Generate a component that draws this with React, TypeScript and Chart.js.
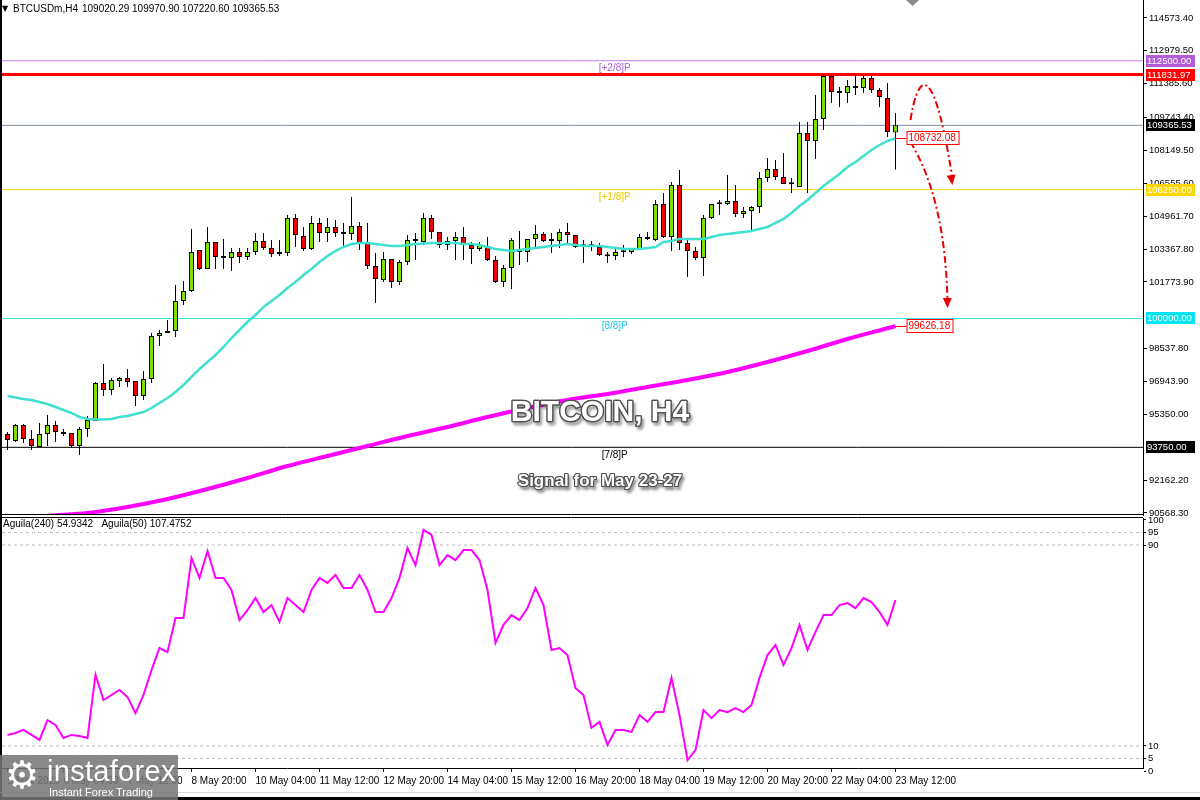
import React, { useEffect, useRef } from 'react';
import { Chart, registerables } from 'chart.js';

Chart.register(...registerables);

// ---------- data ----------
const symbolName = 'BTCUSDm,H4';

const openP = [
  94397, 94058, 94834, 94155, 93767, 94397, 94834, 94494, 94446, 93815,
  94640, 95028, 96871, 96531, 96968, 97113, 96968, 96240, 97065, 99150,
  99296, 99393, 100848, 101333, 103321, 102400, 103709, 102933, 102933, 103224,
  102982, 103224, 103758, 103418, 103127, 103176, 104873, 104000, 103370, 104631,
  104146, 104437, 104097, 104097, 104485, 103709, 102545, 101866, 102885, 101769,
  102739, 103758, 103709, 104873, 104194, 103564, 103758, 103952, 103564, 103370,
  103515, 102836, 101769, 102448, 103370, 103224, 103855, 104097, 103758, 103758,
  104194, 104049, 103515, 103515, 103467, 103030, 103030, 103224, 103224, 103370,
  103952, 103806, 105552, 103952, 106474, 103661, 103273, 102933, 104873, 105552,
  105552, 105698, 105067, 105213, 105407, 106813, 107250, 106862, 106522, 106377,
  108996, 108608, 109675, 111760, 110984, 110936, 111275, 111178, 111663, 111081,
  110693, 109020.29,
];
const highP = [
  94494, 94882, 94882, 94591, 94931, 95319, 95028, 94640, 94446, 94737,
  95270, 96919, 97792, 97113, 97162, 97550, 96968, 97453, 99296, 99441,
  99926, 101624, 101818, 104340, 103321, 104437, 103709, 103855, 103418, 103418,
  103418, 104146, 104146, 103806, 103806, 105019, 105067, 104437, 104970, 104873,
  104873, 104776, 104631, 105892, 104679, 104631, 103176, 103224, 102885, 102836,
  104049, 104146, 105116, 105019, 104194, 103952, 104194, 104437, 103709, 103709,
  103952, 103030, 102594, 103903, 104243, 103855, 104534, 104194, 104146, 104340,
  104631, 104049, 103806, 103758, 103661, 103224, 103418, 103564, 103418, 104097,
  104194, 105746, 106086, 106619, 107201, 103806, 103467, 105019, 105552, 105746,
  106959, 106474, 105407, 105455, 107104, 107783, 107686, 108026, 106813, 109529,
  109529, 110839, 111857, 111809, 111227, 111566, 111832, 111760, 111760, 111178,
  111421, 109970.90,
];
const lowP = [
  93621, 94009, 93961, 93621, 93767, 93815, 94009, 94300, 93718, 93379,
  94252, 95028, 96240, 96289, 96677, 96677, 95755, 96046, 96871, 98665,
  99296, 99102, 100654, 101284, 102351, 102400, 102400, 102400, 102303, 102691,
  102836, 103079, 103321, 102982, 103030, 103030, 103467, 103273, 103321, 103709,
  103709, 103952, 103515, 103806, 103321, 102400, 100751, 101769, 101478, 101624,
  102594, 102836, 103564, 103855, 103418, 103321, 102836, 102836, 102642, 103273,
  102788, 101721, 101527, 101430, 102594, 102739, 103467, 103709, 103176, 103418,
  103564, 103418, 102691, 103273, 103030, 102691, 102836, 102982, 103127, 103321,
  103806, 103758, 103903, 103273, 103321, 102012, 102836, 102060, 104825, 105019,
  105504, 104922, 104873, 104291, 105116, 106619, 106716, 106522, 106086, 106377,
  106086, 107735, 109141, 110451, 110257, 110451, 110839, 110936, 110936, 110257,
  108802, 107220.60,
];
const closeP = [
  94106, 94834, 94155, 93815, 94397, 94834, 94494, 94397, 93815, 94640,
  95076, 96871, 96531, 97016, 97113, 96919, 96240, 97065, 99150, 99296,
  99393, 100848, 101333, 103224, 102400, 103709, 102982, 102950, 103224, 102982,
  103224, 103758, 103418, 103127, 103140, 104873, 104049, 103370, 104631, 104146,
  104437, 104146, 104110, 104485, 103661, 102545, 101915, 102885, 101769, 102739,
  103806, 103770, 104873, 104194, 103564, 103758, 103952, 103564, 103370, 103564,
  102836, 101769, 102448, 103806, 103224, 103855, 104097, 103758, 103770, 104194,
  104049, 103467, 103503, 103503, 103079, 103018, 103224, 103212, 103370, 103952,
  103855, 105552, 103952, 106474, 103661, 103273, 102933, 104873, 105552, 105540,
  105698, 105067, 105213, 105407, 106813, 107250, 106862, 106522, 106510, 108996,
  108608, 109675, 111760, 110984, 110936, 111275, 111178, 111663, 111081, 110742,
  109044, 109365.53,
];

// fast moving average (turquoise), one value per bar
const maFast = [
  96240, 96167, 96095, 96046, 95949, 95852, 95706, 95561, 95416, 95222,
  95125, 95100, 95100, 95125, 95222, 95270, 95367, 95464, 95658, 95901,
  96143, 96434, 96774, 97162, 97550, 97889, 98229, 98617, 99053, 99441,
  99829, 100169, 100557, 100848, 101139, 101478, 101769, 102109, 102400, 102739,
  103030, 103273, 103467, 103612, 103661, 103661, 103612, 103564, 103515, 103515,
  103564, 103612, 103636, 103661, 103661, 103661, 103661, 103612, 103612, 103564,
  103467, 103370, 103321, 103273, 103321, 103370, 103418, 103467, 103515, 103564,
  103612, 103564, 103515, 103515, 103515, 103467, 103418, 103370, 103370, 103370,
  103418, 103467, 103709, 103758, 103855, 103855, 103855, 103855, 103952, 104049,
  104097, 104146, 104194, 104243, 104340, 104437, 104631, 104825, 105116, 105455,
  105746, 106086, 106425, 106716, 107007, 107347, 107589, 107880, 108171, 108414,
  108608, 108732.08,
];

// slow moving average (magenta), read every 5 bars
const maSlowIdx = [0, 5, 10, 15, 20, 25, 30, 35, 40, 45, 50, 55, 60, 65, 70, 75, 80, 85, 90, 95, 100, 105, 110, 111];
const maSlow = [
  90226, 90420, 90566, 90857, 91245, 91730, 92263, 92845, 93330, 93815,
  94300, 94737, 95222, 95658, 96046, 96337, 96677, 97016, 97404, 97889,
  98423, 99005, 99524, 99626.18,
];

// oscillator panel
const aguila = [
  14.4, 15.2, 16.4, 14.4, 12.4, 20.3, 18.4, 13.2, 14.4, 14.0,
  13.2, 38.3, 28.3, 30.3, 32.3, 29.5, 23.1, 30.3, 40.2, 49.0,
  47.4, 60.9, 60.9, 84.8, 76.9, 87.6, 76.9, 76.9, 72.1, 60.1,
  64.1, 68.9, 63.3, 66.1, 59.4, 68.9, 66.1, 63.3, 72.1, 76.9,
  74.9, 78.1, 72.9, 72.9, 78.1, 72.1, 63.3, 63.3, 68.9, 76.9,
  88.8, 82.0, 96.0, 94.0, 82.0, 86.0, 84.0, 88.0, 88.0, 84.0,
  72.1, 51.0, 58.2, 62.1, 60.1, 64.9, 72.9, 66.1, 48.2, 49.0,
  46.2, 33.1, 30.3, 17.2, 19.6, 10.4, 16.4, 16.4, 15.6, 22.3,
  19.6, 23.5, 23.5, 37.1, 22.3, 4.4, 8.4, 24.3, 21.1, 24.3,
  23.5, 25.1, 23.5, 26.3, 37.1, 46.2, 50.2, 42.2, 49.0, 58.2,
  48.2, 55.4, 62.1, 62.1, 66.1, 66.9, 64.9, 68.9, 67.3, 63.3,
  58.2, 68.1,
];
const aguilaLegend = 'Aguila(240) 54.9342   Aguila(50) 107.4752';
const aguilaLevels = [95, 90, 10, 5];
const aguilaTicks = [100, 95, 90, 10, 5, 0];

const timeLabelIdx = [0, 7, 15, 23, 31, 39, 47, 55, 63, 71, 79, 87, 95, 103, 111];
const timeLabels = [
  '5 May 2025', '6 May 04:00', '7 May 12:00', '8 May 20:00', '10 May 04:00',
  '11 May 12:00', '12 May 20:00', '14 May 04:00', '15 May 12:00', '16 May 20:00',
  '18 May 04:00', '19 May 12:00', '20 May 20:00', '22 May 04:00', '23 May 12:00',
];

const priceTicks = [
  114573.4, 112979.5, 111385.6, 109743.4, 108149.5, 106555.6, 104961.7,
  103367.8, 101773.9, 98537.8, 96943.9, 95350.0, 92162.2, 90568.3,
];

const levelPrices = [112500, 111831.97, 109365.53, 106250, 100000, 93750];
const levelNames = ['[+2/8]P', '', '', '[+1/8]P', '[8/8]P', '[7/8]P'];

// annotation arrows, in (bar index, price)
const arrowUp = [
  [112.875, 109626], [113.5, 111178], [114.5, 111324], [116.25, 111420], [118.125, 106474],
];
const arrowDown = [[112.875, 108559], [117.25, 105746], [117.5, 100508]];

const titleText = 'BITCOIN, H4';
const subtitleText = 'Signal for May 23-27';

// ---------- styling / layout ----------
const FONT = '"Liberation Sans", Arial, Helvetica, sans-serif';
const X_MIN = -0.6875;
const X_MAX = 141.9375;
const Y_MAX = 115446;
const Y_MIN = 90468.5;
const IND_MAX = 100.75;
const IND_MIN = 1.24;
const LEVEL_LABEL_AT = 75.9;

const levelLineColors = ['#C47DE6', '#FF0000', '#7F8FA6', '#FFD700', '#38E4E4', '#000000'];
const levelLineWidths = [1, 3, 1, 1, 1, 1];
const levelTextColors = ['#B060D8', '#FF0000', '#000', '#F0C800', '#20C8E8', '#000'];
const tagColors = ['#B45CD6', '#FF0000', '#000000', '#FFD700', '#00E6F0', '#000000'];
const BULL = '#7FE000';
const BEAR = '#F00000';

const idx = openP.map((_, i) => i);

function drawOutlinedText(ctx: any, text: string, x: number, y: number, font: string, lw: number) {
  ctx.save();
  ctx.font = font;
  ctx.textAlign = 'center';
  ctx.textBaseline = 'middle';
  ctx.lineJoin = 'round';
  ctx.shadowColor = 'rgba(0,0,0,0.45)';
  ctx.shadowBlur = 3;
  ctx.shadowOffsetX = 2;
  ctx.shadowOffsetY = 3;
  ctx.lineWidth = lw;
  ctx.strokeStyle = '#505050';
  ctx.strokeText(text, x, y);
  ctx.shadowColor = 'transparent';
  ctx.strokeText(text, x, y);
  ctx.fillStyle = '#ffffff';
  ctx.fillText(text, x, y);
  ctx.restore();
}

function arrowHead(ctx: any, fx: number, fy: number, tx: number, ty: number) {
  const a = Math.atan2(ty - fy, tx - fx);
  const len = 10, hw = 4.5;
  ctx.beginPath();
  ctx.moveTo(tx, ty);
  ctx.lineTo(tx - len * Math.cos(a) + hw * Math.sin(a), ty - len * Math.sin(a) - hw * Math.cos(a));
  ctx.lineTo(tx - len * Math.cos(a) - hw * Math.sin(a), ty - len * Math.sin(a) + hw * Math.cos(a));
  ctx.closePath();
  ctx.fill();
}

const mainOverlay = {
  id: 'mainOverlay',
  afterDraw(chart: any) {
    const { ctx, chartArea: ca } = chart;
    const xs = chart.scales.x;
    const ys = chart.scales.y;
    const P = (pt: number[]) => [xs.getPixelForValue(pt[0]), ys.getPixelForValue(pt[1])];
    const last = idx.length - 1;
    ctx.save();

    // bottom border of price panel
    ctx.strokeStyle = '#000';
    ctx.lineWidth = 1;
    ctx.beginPath();
    ctx.moveTo(0, ca.bottom - 0.5);
    ctx.lineTo(ca.right, ca.bottom - 0.5);
    ctx.stroke();

    // header
    ctx.fillStyle = '#000';
    ctx.textAlign = 'left';
    ctx.textBaseline = 'middle';
    ctx.font = '8px "DejaVu Sans"';
    ctx.fillText('▼', 2, 9);
    ctx.font = `10px ${FONT}`;
    ctx.fillText(symbolName, 13, 9);
    ctx.fillText(
      `${openP[last].toFixed(2)} ${highP[last].toFixed(2)} ${lowP[last].toFixed(2)} ${closeP[last].toFixed(2)}`,
      82, 9);

    // level names
    ctx.font = `10px ${FONT}`;
    ctx.textAlign = 'center';
    ctx.textBaseline = 'top';
    levelPrices.forEach((p, k) => {
      if (!levelNames[k]) return;
      ctx.fillStyle = levelTextColors[k];
      ctx.fillText(levelNames[k], xs.getPixelForValue(LEVEL_LABEL_AT), ys.getPixelForValue(p) + 3);
    });

    // big captions
    drawOutlinedText(ctx, titleText, 600, 413, `bold 30px ${FONT}`, 2.5);
    drawOutlinedText(ctx, subtitleText, 600, 481, `bold 17px ${FONT}`, 2);

    // arrows
    ctx.strokeStyle = '#E80000';
    ctx.fillStyle = '#E80000';
    ctx.lineWidth = 2;
    ctx.setLineDash([7, 3, 2, 3]);
    const a = arrowUp.map(P);
    ctx.beginPath();
    ctx.moveTo(a[0][0], a[0][1]);
    ctx.quadraticCurveTo(a[1][0], a[1][1], a[2][0], a[2][1]);
    ctx.quadraticCurveTo(a[3][0], a[3][1], a[4][0], a[4][1] - 6);
    ctx.stroke();
    const b = arrowDown.map(P);
    ctx.beginPath();
    ctx.moveTo(b[0][0], b[0][1]);
    ctx.quadraticCurveTo(b[1][0], b[1][1], b[2][0], b[2][1] - 6);
    ctx.stroke();
    ctx.setLineDash([]);
    arrowHead(ctx, a[3][0], a[3][1], a[4][0], a[4][1]);
    arrowHead(ctx, b[1][0], b[1][1], b[2][0], b[2][1]);

    // value tags of the moving averages
    ctx.font = `10px ${FONT}`;
    ctx.textAlign = 'left';
    ctx.textBaseline = 'middle';
    ctx.lineWidth = 1;
    const lx = xs.getPixelForValue(last);
    [maFast[last], maSlow[maSlow.length - 1]].forEach((v) => {
      const y = Math.round(ys.getPixelForValue(v));
      const text = v.toFixed(2);
      const w = Math.ceil(ctx.measureText(text).width) + 4;
      ctx.strokeStyle = '#FF0000';
      ctx.beginPath();
      ctx.moveTo(lx, y + 0.5);
      ctx.lineTo(lx + 11, y + 0.5);
      ctx.stroke();
      ctx.fillStyle = '#fff';
      ctx.fillRect(lx + 11, y - 7, w, 14);
      ctx.strokeRect(lx + 11.5, y - 6.5, w, 13);
      ctx.fillStyle = '#FF0000';
      ctx.fillText(text, lx + 13, y + 0.5);
    });

    // price tags on the axis
    ctx.font = `9.5px ${FONT}`;
    levelPrices.forEach((p, k) => {
      const y = Math.round(ys.getPixelForValue(p));
      ctx.fillStyle = tagColors[k];
      ctx.fillRect(ca.right + 3, y - 6, 49, 12);
      ctx.fillStyle = '#fff';
      ctx.fillText(p.toFixed(2), ca.right + 4, y + 0.5);
    });

    // chart-shift marker
    ctx.fillStyle = '#8a8a8a';
    ctx.beginPath();
    ctx.moveTo(906, 0);
    ctx.lineTo(919, 0);
    ctx.lineTo(912.5, 6);
    ctx.closePath();
    ctx.fill();

    ctx.restore();
  },
};

const indOverlay = {
  id: 'indOverlay',
  afterDraw(chart: any) {
    const { ctx, chartArea: ca } = chart;
    ctx.save();
    ctx.strokeStyle = '#000';
    ctx.lineWidth = 1;
    ctx.beginPath();
    ctx.moveTo(0, ca.top - 0.5);
    ctx.lineTo(ca.right, ca.top - 0.5);
    ctx.stroke();
    ctx.fillStyle = '#000';
    ctx.font = `10px ${FONT}`;
    ctx.textAlign = 'left';
    ctx.textBaseline = 'middle';
    ctx.fillText(aguilaLegend, 3, 8);
    ctx.restore();
  },
};

function mainConfig(): any {
  const lineAt = (p: number) => [{ x: X_MIN, y: p }, { x: X_MAX, y: p }];
  return {
    type: 'bar',
    data: {
      datasets: [
        ...levelPrices.map((p, k) => ({
          type: 'line',
          data: lineAt(p),
          borderColor: levelLineColors[k],
          borderWidth: levelLineWidths[k],
          pointRadius: 0,
          order: 20 + k,
        })),
        {
          type: 'bar',
          data: idx.map((i) => ({ x: i, y: [lowP[i], highP[i]] })),
          backgroundColor: '#000',
          barThickness: 1,
          grouped: false,
          inflateAmount: 0,
          order: 6,
        },
        {
          type: 'bar',
          data: idx.map((i) => ({ x: i, y: [openP[i], closeP[i]] })),
          backgroundColor: idx.map((i) => (closeP[i] >= openP[i] ? BULL : BEAR)),
          borderColor: '#000',
          borderWidth: 1,
          borderSkipped: false,
          barThickness: 5,
          minBarLength: 2,
          grouped: false,
          inflateAmount: 0,
          order: 5,
        },
        {
          type: 'line',
          data: idx.map((i) => ({ x: i, y: maFast[i] })),
          borderColor: '#40E0D0',
          borderWidth: 2.5,
          pointRadius: 0,
          order: 2,
        },
        {
          type: 'line',
          data: maSlowIdx.map((v, k) => ({ x: v, y: maSlow[k] })),
          borderColor: '#FF00FF',
          borderWidth: 4,
          pointRadius: 0,
          tension: 0.3,
          order: 1,
        },
      ],
    },
    options: {
      responsive: false,
      animation: false,
      events: [],
      layout: { padding: { left: 2, top: 0, right: 0, bottom: 1 } },
      plugins: { legend: { display: false }, tooltip: { enabled: false } },
      scales: {
        x: { type: 'linear', display: false, min: X_MIN, max: X_MAX, offset: false },
        y: {
          type: 'linear',
          position: 'right',
          min: Y_MIN,
          max: Y_MAX,
          afterBuildTicks: (s: any) => { s.ticks = priceTicks.map((v) => ({ value: v })); },
          afterFit: (s: any) => { s.width = 57; s.paddingTop = 0; s.paddingBottom = 0; },
          ticks: {
            autoSkip: false,
            color: '#000',
            font: { size: 9.5, family: FONT },
            padding: 2,
            crossAlign: 'near',
            callback: (v: any) => Number(v).toFixed(2),
          },
          grid: { drawOnChartArea: false, tickLength: 4, tickColor: '#000' },
          border: { display: true, color: '#000' },
        },
      },
    },
    plugins: [mainOverlay],
  };
}

function indConfig(): any {
  return {
    type: 'line',
    data: {
      datasets: [
        ...aguilaLevels.map((v) => ({
          data: [{ x: X_MIN, y: v }, { x: X_MAX, y: v }],
          borderColor: '#BDBDBD',
          borderWidth: 1,
          borderDash: [3, 3],
          pointRadius: 0,
          order: 5,
        })),
        {
          data: idx.map((i) => ({ x: i, y: aguila[i] })),
          borderColor: '#FF00FF',
          borderWidth: 2,
          pointRadius: 0,
          order: 1,
        },
      ],
    },
    options: {
      responsive: false,
      animation: false,
      events: [],
      layout: { padding: { left: 2, top: 2, right: 0, bottom: 0 } },
      plugins: { legend: { display: false }, tooltip: { enabled: false } },
      scales: {
        x: {
          type: 'linear',
          min: X_MIN,
          max: X_MAX,
          offset: false,
          afterBuildTicks: (s: any) => { s.ticks = timeLabelIdx.map((v) => ({ value: v })); },
          afterFit: (s: any) => { s.height = 32; s.paddingLeft = 0; s.paddingRight = 0; },
          ticks: {
            autoSkip: false,
            maxRotation: 0,
            minRotation: 0,
            align: 'start',
            padding: 3,
            color: '#000',
            font: { size: 10, family: FONT },
            callback: (v: any) => timeLabels[timeLabelIdx.indexOf(Number(v))] ?? '',
          },
          grid: { drawOnChartArea: false, tickLength: 4, tickColor: '#000' },
          border: { display: true, color: '#000' },
        },
        y: {
          type: 'linear',
          position: 'right',
          min: IND_MIN,
          max: IND_MAX,
          afterBuildTicks: (s: any) => { s.ticks = aguilaTicks.map((v) => ({ value: v })); },
          afterFit: (s: any) => { s.width = 57; s.paddingTop = 0; s.paddingBottom = 0; },
          ticks: {
            autoSkip: false,
            color: '#000',
            font: { size: 9.5, family: FONT },
            padding: 2,
            crossAlign: 'near',
          },
          grid: { drawOnChartArea: false, tickLength: 3, tickColor: '#000' },
          border: { display: true, color: '#000' },
        },
      },
    },
    plugins: [indOverlay],
  };
}

export default function App() {
  const mainRef = useRef<HTMLCanvasElement>(null);
  const indRef = useRef<HTMLCanvasElement>(null);

  useEffect(() => {
    Chart.defaults.font.family = FONT;
    const main = new Chart(mainRef.current as HTMLCanvasElement, mainConfig());
    const ind = new Chart(indRef.current as HTMLCanvasElement, indConfig());
    return () => {
      main.destroy();
      ind.destroy();
    };
  }, []);

  return (
    <div style={{ position: 'absolute', left: 0, top: 0, width: 1200, height: 800, background: '#fff', overflow: 'hidden', fontFamily: FONT }}>
      <canvas ref={mainRef} width={1200} height={516} style={{ position: 'absolute', left: 0, top: 0 }} />
      <canvas ref={indRef} width={1200} height={284} style={{ position: 'absolute', left: 0, top: 516 }} />
      <div style={{ position: 'absolute', left: 0, top: 0, width: 2, height: 800, background: '#000' }} />
      <div style={{ position: 'absolute', left: 0, top: 792, width: 1200, height: 1, background: '#dcdcdc' }} />
      <div style={{ position: 'absolute', left: 0, top: 797, width: 1200, height: 3, background: '#000' }} />
      <div style={{ position: 'absolute', left: 0, top: 755, width: 178, height: 45, background: 'rgba(118,118,118,0.86)', color: '#fff' }}>
        <span style={{ position: 'absolute', left: 5, top: -1, fontSize: 38, lineHeight: '42px', fontFamily: '"DejaVu Sans", sans-serif' }}>⚙</span>
        <span style={{ position: 'absolute', left: 47, top: 0, fontSize: 29, lineHeight: '32px', letterSpacing: 0.3 }}>instaforex</span>
        <span style={{ position: 'absolute', left: 49, top: 31, fontSize: 11, lineHeight: '12px' }}>Instant Forex Trading</span>
      </div>
    </div>
  );
}
